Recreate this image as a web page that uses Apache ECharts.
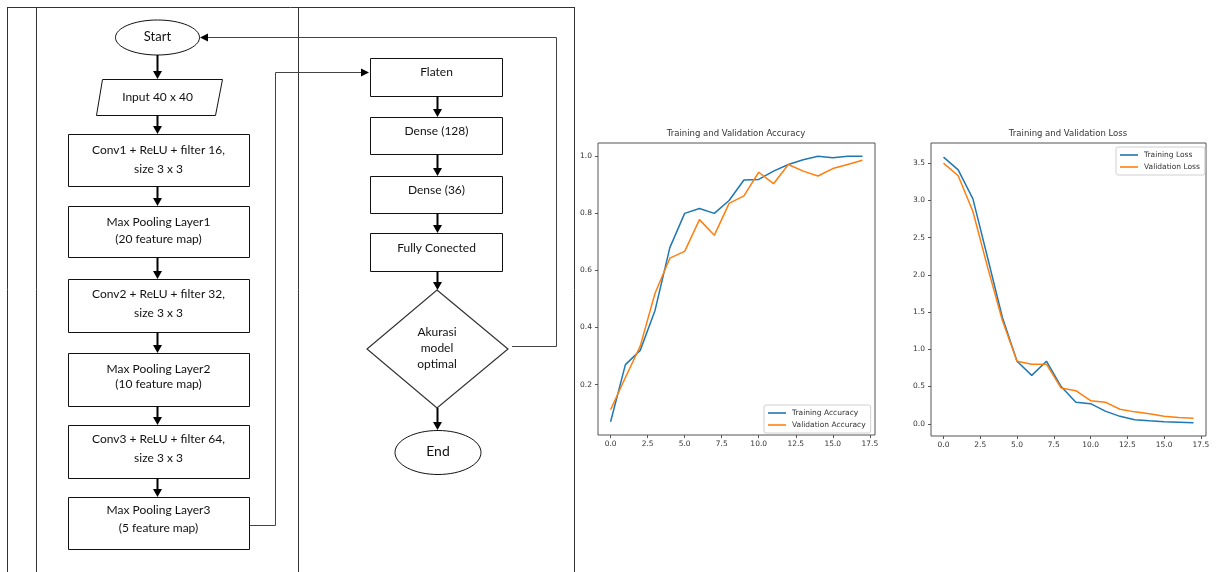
<!DOCTYPE html>
<html>
<head>
<meta charset="utf-8">
<script src="https://cdn.jsdelivr.net/npm/echarts@6.0.0/dist/echarts.min.js"></script>
<style>
html,body{margin:0;padding:0;background:#fff;}
#main{width:1217px;height:572px;}
</style>
</head>
<body>
<div id="main"></div>
<script>
// ---- data ----
const epochs = [0,1,2,3,4,5,6,7,8,9,10,11,12,13,14,15,16,17];
const trainAcc = [0.07,0.27,0.32,0.46,0.68,0.80,0.817,0.80,0.845,0.917,0.919,0.948,0.971,0.988,1.0,0.995,1.0,1.0];
const valAcc   = [0.112,0.225,0.335,0.52,0.643,0.667,0.778,0.723,0.835,0.861,0.944,0.904,0.971,0.948,0.931,0.957,0.971,0.986];
const trainLoss = [3.58,3.41,3.02,2.23,1.43,0.84,0.65,0.84,0.50,0.29,0.27,0.17,0.10,0.055,0.04,0.028,0.022,0.015];
const valLoss   = [3.50,3.33,2.85,2.10,1.39,0.84,0.80,0.80,0.48,0.445,0.31,0.29,0.195,0.16,0.135,0.10,0.085,0.075];
const xTicks = [0,2.5,5,7.5,10,12.5,15,17.5];
const accTicks = [0.2,0.4,0.6,0.8,1.0];
const lossTicks = [0,0.5,1.0,1.5,2.0,2.5,3.0,3.5];
const seriesNames = ['Training Accuracy','Validation Accuracy','Training Loss','Validation Loss'];
const chartTitles = ['Training and Validation Accuracy','Training and Validation Loss'];
const flowLeftText = [['Start'],['Input 40 x 40'],['Conv1 + ReLU + filter 16,','size 3 x 3'],['Max Pooling Layer1','(20 feature map)'],['Conv2 + ReLU + filter 32,','size 3 x 3'],['Max Pooling Layer2','(10 feature map)'],['Conv3 + ReLU + filter 64,','size 3 x 3'],['Max Pooling Layer3','(5 feature map)']];
const flowRightText = [['Flaten'],['Dense (128)'],['Dense (36)'],['Fully Conected'],['Akurasi','model','optimal'],['End']];

// ---- flowchart drawing (layout) ----
const G = [];
const FONT = 'Lato, "Liberation Sans", sans-serif';
function line(x1,y1,x2,y2,w,c){G.push({type:'line',shape:{x1,y1,x2,y2},style:{stroke:c||'#222',lineWidth:w||1},silent:true});}
function rect(x,y,w,h){G.push({type:'rect',shape:{x:x+0.5,y:y+0.5,width:w,height:h},style:{fill:'#fff',stroke:'#111',lineWidth:1},silent:true});}
function txt(s,x,y,size){G.push({type:'text',x,y,style:{text:s,fill:'#111',font:(size||12)+'px '+FONT,align:'center',verticalAlign:'middle'},silent:true,z:10});}
function vArrow(x,y1,y2){line(x,y1,x,y2-7,2,'#000');G.push({type:'polygon',shape:{points:[[x-4.5,y2-8],[x+4.5,y2-8],[x,y2]]},style:{fill:'#000'},silent:true});}

// frame
line(7,7.5,574,7.5,1,'#333');
[7.5,36.5,298.5,574.5].forEach(x=>line(x,7,x,572,1,'#333'));

// connectors
line(250,525.5,275.5,525.5,1,'#444');
line(275.5,525.5,275.5,72.5,1,'#444');
line(275.5,72.5,362,72.5,1,'#444');
G.push({type:'polygon',shape:{points:[[361,68.5],[361,76.5],[369,72.5]]},style:{fill:'#000'},silent:true});
line(512,346.5,556.5,346.5,1,'#444');
line(556.5,346.5,556.5,37.5,1,'#444');
line(556.5,37.5,207,37.5,1,'#444');
G.push({type:'polygon',shape:{points:[[208,33.5],[208,41.5],[200,37.5]]},style:{fill:'#000'},silent:true});

// left column
G.push({type:'ellipse',shape:{cx:157.5,cy:37.5,rx:42,ry:17.5},style:{fill:'#fff',stroke:'#111',lineWidth:1},silent:true});
txt(flowLeftText[0][0],157.5,37,13);
G.push({type:'polygon',shape:{points:[[102.5,79.5],[222.5,79.5],[215.5,115.5],[96.5,115.5]]},style:{fill:'#fff',stroke:'#111',lineWidth:1},silent:true});
txt(flowLeftText[1][0],157.5,97);
const lBoxes = [[134,52,[150,169]],[206,51,[222,239]],[279,53,[294,313]],[353,53,[369,384]],[425,53,[439,458]],[497,52,[510,528]]];
lBoxes.forEach((b,i)=>{rect(68,b[0],181,b[1]);flowLeftText[i+2].forEach((s,j)=>txt(s,158.5,b[2][j]));});
const lArrows = [[55,79],[115,134],[186,206],[257,279],[332,353],[406,425],[478,497]];
lArrows.forEach(a=>vArrow(157.5,a[0],a[1]));

// right column
const rBoxes = [[58,38,72],[117,37,131],[176,37,190],[233,38,248]];
rBoxes.forEach((b,i)=>{rect(370,b[0],132,b[1]);txt(flowRightText[i][0],436.5,b[2]);});
G.push({type:'polygon',shape:{points:[[437,290],[508,349],[437,408],[367,349]]},style:{fill:'#fff',stroke:'#333',lineWidth:1.2},silent:true});
[332,348,364].forEach((y,j)=>txt(flowRightText[4][j],437,y));
G.push({type:'ellipse',shape:{cx:438,cy:452.5,rx:43,ry:22},style:{fill:'#fff',stroke:'#111',lineWidth:1},silent:true});
txt(flowRightText[5][0],438,451,14);
[[96,117],[154,176],[213,233],[271,290],[408,430]].forEach(a=>vArrow(437.5,a[0],a[1]));

// ---- charts ----
const MPL = '"DejaVu Sans", sans-serif';
const blue = '#1f77b4', orange = '#ff7f0e';
function xAx(gi){return {type:'value',gridIndex:gi,min:-0.85,max:17.85,splitLine:{show:false},axisLine:{show:false,onZero:false},
  axisTick:{show:true,customValues:xTicks,length:3,lineStyle:{color:'#555'}},
  axisLabel:{customValues:xTicks,formatter:v=>v.toFixed(1),fontSize:7.5,fontFamily:MPL,color:'#333',margin:5}};}
function yAx(gi,min,max,ticks){return {type:'value',gridIndex:gi,min,max,splitLine:{show:false},axisLine:{show:false,onZero:false},
  axisTick:{show:true,customValues:ticks,length:3,lineStyle:{color:'#555'}},
  axisLabel:{customValues:ticks,formatter:v=>v.toFixed(1),fontSize:7.5,fontFamily:MPL,color:'#333',margin:6}};}
function ser(name,xi,vals,color){return {name,type:'line',xAxisIndex:xi,yAxisIndex:xi,showSymbol:false,symbol:'none',
  data:epochs.map((e,i)=>[e,vals[i]]),lineStyle:{color,width:1.5},itemStyle:{color},animation:false};}
const legendBase = {orient:'vertical',icon:'rect',itemWidth:18,itemHeight:1.6,itemGap:4,padding:[4,5,4,4],
  backgroundColor:'rgba(255,255,255,0.8)',borderColor:'#d0d0d0',borderWidth:1,borderRadius:2,
  textStyle:{fontSize:7.5,fontFamily:MPL,color:'#333',padding:[0,0,0,1]},selectedMode:false};

const option = {
  animation:false,
  backgroundColor:'#fff',
  graphic:{elements:G},
  title:[
    {text:chartTitles[0],left:736,top:129,textAlign:'center',padding:0,textStyle:{fontSize:8.5,fontWeight:'normal',fontFamily:MPL,color:'#333'}},
    {text:chartTitles[1],left:1068,top:129,textAlign:'center',padding:0,textStyle:{fontSize:8.5,fontWeight:'normal',fontFamily:MPL,color:'#333'}}
  ],
  legend:[
    Object.assign({},legendBase,{data:[seriesNames[0],seriesNames[1]],left:764,top:405}),
    Object.assign({},legendBase,{data:[seriesNames[2],seriesNames[3]],left:1116,top:147})
  ],
  grid:[
    {left:598,top:143,width:277,height:292,show:true,borderColor:'#555',borderWidth:1,backgroundColor:'#fff'},
    {left:931,top:143,width:275,height:293,show:true,borderColor:'#555',borderWidth:1,backgroundColor:'#fff'}
  ],
  xAxis:[xAx(0),xAx(1)],
  yAxis:[yAx(0,0.0235,1.0465,accTicks),yAx(1,-0.164,3.77,lossTicks)],
  series:[
    ser(seriesNames[0],0,trainAcc,blue),
    ser(seriesNames[1],0,valAcc,orange),
    ser(seriesNames[2],1,trainLoss,blue),
    ser(seriesNames[3],1,valLoss,orange)
  ]
};
const chart = echarts.init(document.getElementById('main'),null,{renderer:'canvas'});
chart.setOption(option);
</script>
</body>
</html>
